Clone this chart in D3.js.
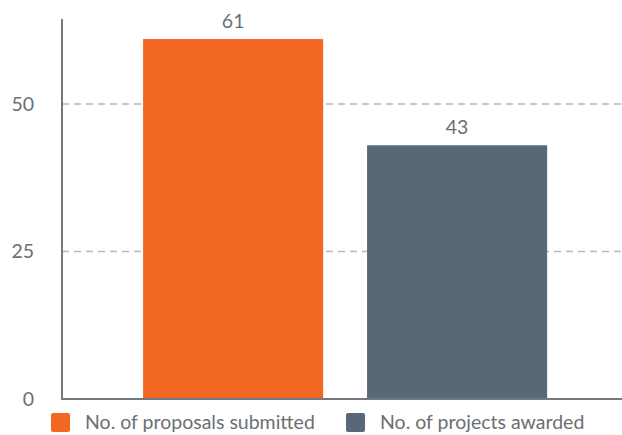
<!DOCTYPE html>
<html><head><meta charset="utf-8">
<script src="https://cdn.jsdelivr.net/npm/d3@7"></script>
<style>body{margin:0;background:#fff;}svg{display:block;font-family:Lato,sans-serif;}</style>
</head><body>
<svg id="c" width="622" height="435"></svg>
<script>
const categories = [""];
const seriesNames = ["No. of proposals submitted", "No. of projects awarded"];
const seriesValues = [61, 43];
const seriesColors = ["#f26722", "#586877"];
const yTicks = [0, 25, 50];

const svg = d3.select("#c");
const m = {left: 62, right: 0, top: 19, bottom: 36};
const W = 622, H = 435;
const x0 = d3.scaleBand().domain(categories).range([m.left, W - m.right]).paddingInner(0).paddingOuter(0.193).align(0.52);
const x1 = d3.scaleBand().domain(seriesNames).range([0, x0.bandwidth()]).paddingInner(0.196).paddingOuter(0);
const y = d3.scaleLinear().domain([0, 64.4]).range([H - m.bottom, m.top]);

// gridlines
svg.append("g").selectAll("line").data(yTicks.filter(d => d > 0)).join("line")
  .attr("x1", m.left).attr("x2", W).attr("y1", d => y(d)).attr("y2", d => y(d))
  .attr("stroke", "#b8b8b8").attr("stroke-width", 1.5).attr("stroke-dasharray", "7,5");

const yAxis = svg.append("g").attr("transform", `translate(${m.left},0)`)
  .call(d3.axisLeft(y).tickValues(yTicks).tickSize(0).tickPadding(28));
yAxis.select(".domain").remove();
yAxis.selectAll("text").attr("fill", "#6b6f73").style("font-size", "19.5px").style("font-family", "Lato");

const data = seriesNames.map((s, i) => ({s, v: seriesValues[i], c: seriesColors[i]}));
const g = svg.append("g").attr("transform", `translate(${x0("")},0)`);
g.selectAll("rect").data(data).join("rect")
  .attr("x", d => x1(d.s)).attr("width", x1.bandwidth())
  .attr("y", d => y(d.v)).attr("height", d => y(0) - y(d.v)).attr("fill", d => d.c);
g.selectAll("text").data(data).join("text")
  .attr("x", d => x1(d.s) + x1.bandwidth() / 2).attr("y", d => y(d.v) - 11)
  .attr("text-anchor", "middle").attr("fill", "#6b6f73").style("font-size", "19.5px").text(d => d.v);

// axes lines
svg.append("line").attr("x1", m.left).attr("x2", m.left).attr("y1", m.top).attr("y2", y(0) + 1)
  .attr("stroke", "#737980").attr("stroke-width", 2);
svg.append("line").attr("x1", m.left).attr("x2", W).attr("y1", y(0)).attr("y2", y(0))
  .attr("stroke", "#737980").attr("stroke-width", 2);

// legend
const legX = [51, 346];
const lg = svg.append("g").selectAll("g").data(data).join("g")
  .attr("transform", (d, i) => `translate(${legX[i]},413)`);
lg.append("rect").attr("width", 19).attr("height", 19).attr("rx", 2).attr("fill", d => d.c);
lg.append("text").attr("x", 34).attr("y", 16).attr("fill", "#6b6f73").style("font-size", "19.5px").text(d => d.s);
</script>
</body></html>
